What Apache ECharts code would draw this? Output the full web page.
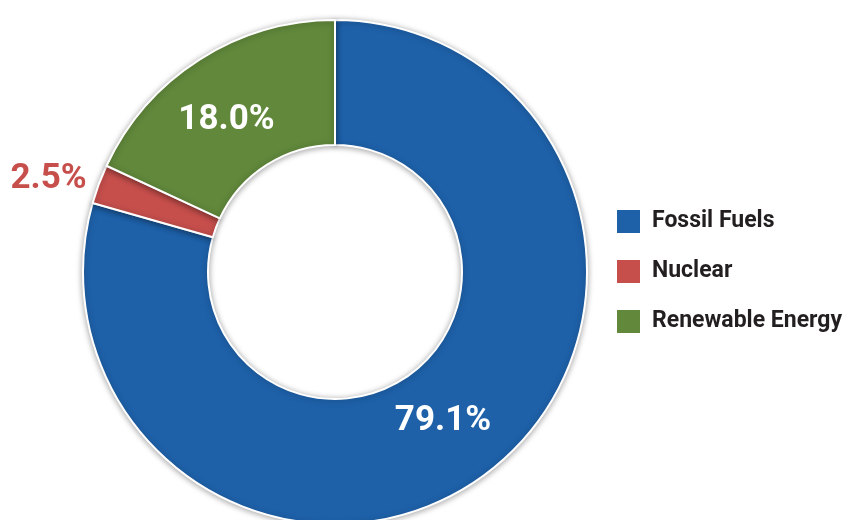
<!DOCTYPE html>
<html>
<head>
<meta charset="utf-8">
<script src="https://cdn.jsdelivr.net/npm/echarts@6/dist/echarts.min.js"></script>
<style>
html,body{margin:0;padding:0;background:#fff;}
#chart{width:846px;height:520px;}
</style>
</head>
<body>
<div id="chart"></div>
<script>
const categories = ['Fossil Fuels', 'Nuclear', 'Renewable Energy'];
const values = [79.1, 2.5, 18.0];
const colors = ['#1e61a9', '#c64f4c', '#61883b'];

const FONT = 'Roboto, "Liberation Sans", sans-serif';

const chart = echarts.init(document.getElementById('chart'), null, {renderer: 'canvas'});

const labelOffsets = {
  'Fossil Fuels': [-8, -4],
  'Nuclear': [4, -1],
  'Renewable Energy': [-5, 11]
};

const data = categories.map((name, i) => {
  const item = {
    name: name,
    value: values[i],
    itemStyle: {color: colors[i]},
    label: {offset: labelOffsets[name]}
  };
  if (name === 'Nuclear') {
    item.label.position = 'outside';
    item.label.color = colors[i];
    item.labelLine = {show: false, length: 12, length2: 0};
  }
  return item;
});

chart.setOption({
  animation: false,
  legend: {
    orient: 'vertical',
    left: 615,
    top: 208,
    padding: 0,
    itemWidth: 25,
    itemHeight: 25,
    itemGap: 23,
    icon: 'rect',
    data: categories,
    textStyle: {
      fontFamily: FONT,
      fontWeight: 'bold',
      fontSize: 23,
      color: '#231f20',
      padding: [0, 0, 0, 6]
    }
  },
  series: [{
    type: 'pie',
    center: [335, 272],
    radius: [127, 252],
    startAngle: 90,
    clockwise: true,
    avoidLabelOverlap: false,
    itemStyle: {
      borderColor: '#ffffff',
      borderWidth: 2,
      shadowBlur: 6,
      shadowOffsetY: 1,
      shadowColor: 'rgba(0,0,0,0.35)'
    },
    label: {
      show: true,
      position: 'inside',
      formatter: p => p.value.toFixed(1) + '%',
      fontFamily: FONT,
      fontWeight: 'bold',
      fontSize: 35,
      color: '#ffffff'
    },
    labelLine: {show: false},
    emphasis: {disabled: true},
    data: data
  }]
});
</script>
</body>
</html>
